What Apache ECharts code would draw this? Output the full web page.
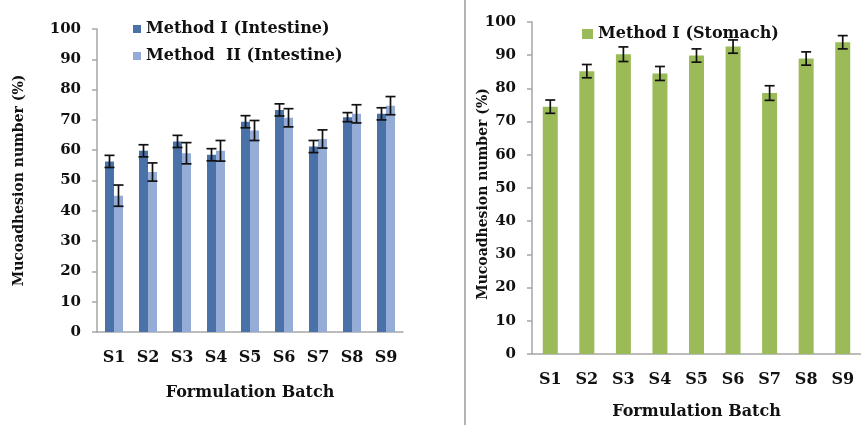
<!DOCTYPE html>
<html>
<head>
<meta charset="utf-8">
<script src="https://cdn.jsdelivr.net/npm/echarts@6/dist/echarts.min.js"></script>
<style>html,body{margin:0;padding:0;background:#fff;}#c{width:861px;height:425px;}</style>
</head>
<body>
<div id="c"></div>
<script>
var categories = ['S1','S2','S3','S4','S5','S6','S7','S8','S9'];
var yTicks = [0,10,20,30,40,50,60,70,80,90,100];
var intestineM1 = [56.3, 59.8, 62.9, 58.5, 69.4, 73.3, 61.2, 70.9, 72.0];
var intestineM1Err = [2, 2, 2, 2, 2, 2, 2, 1.5, 2];
var intestineM2 = [45.0, 52.8, 59.0, 59.8, 66.5, 70.7, 63.7, 72.0, 74.7];
var intestineM2Err = [3.5, 3, 3.5, 3.4, 3.3, 3, 3, 3, 3];
var stomachM1 = [74.5, 85.2, 90.3, 84.5, 89.9, 92.6, 78.6, 89.0, 93.9];
var stomachM1Err = [2, 2, 2.2, 2.1, 2, 2, 2.2, 2, 2];

var FONT = 'DejaVu Serif';
var TXT = '#111';
var AX = '#a6a6a6';

function errData(vals, errs) {
  return vals.map(function (v, i) { return [i, v, errs[i]]; });
}
function errSeries(name, xi, yi, vals, errs, offset) {
  return {
    type: 'custom', name: name, xAxisIndex: xi, yAxisIndex: yi, z: 10,
    silent: true,
    data: errData(vals, errs),
    renderItem: function (params, api) {
      var i = api.value(0), m = api.value(1), e = api.value(2);
      var t = api.coord([i, m + e]);
      var b = api.coord([i, m - e]);
      var x = t[0] + offset, h = 5;
      var st = { stroke: '#111', lineWidth: 1.7 };
      return { type: 'group', children: [
        { type: 'line', shape: { x1: x, y1: t[1], x2: x, y2: b[1] }, style: st },
        { type: 'line', shape: { x1: x - h, y1: t[1], x2: x + h, y2: t[1] }, style: st },
        { type: 'line', shape: { x1: x - h, y1: b[1], x2: x + h, y2: b[1] }, style: st }
      ]};
    }
  };
}
function yAxis(gi, nameGap, pad) {
  return {
    type: 'value', gridIndex: gi, min: 0, max: 100, interval: 10,
    name: 'Mucoadhesion number (%)', nameLocation: 'middle', nameGap: nameGap,
    nameMoveOverlap: false,
    nameTextStyle: { fontFamily: FONT, fontWeight: 'bold', fontSize: 14, color: TXT, padding: pad },
    axisLine: { show: true, lineStyle: { color: AX, width: 1.5 } },
    axisTick: { show: true, length: 5, lineStyle: { color: AX, width: 1.5 } },
    splitLine: { show: false },
    axisLabel: { margin: 16, fontFamily: FONT, fontWeight: 'bold', fontSize: 15, color: TXT,
      formatter: function (v) { return yTicks.indexOf(v) >= 0 ? String(v) : ''; } }
  };
}
function xAxis(gi, nameGap) {
  return {
    type: 'category', gridIndex: gi, data: categories,
    name: 'Formulation Batch', nameLocation: 'middle', nameGap: nameGap,
    nameTextStyle: { fontFamily: FONT, fontWeight: 'bold', fontSize: 16, color: TXT },
    axisLine: { show: true, lineStyle: { color: AX, width: 1.5 } },
    axisTick: { show: false },
    axisLabel: { margin: 18, fontFamily: FONT, fontWeight: 'bold', fontSize: 16, color: TXT }
  };
}

var chart = echarts.init(document.getElementById('c'), null, { renderer: 'canvas' });
chart.setOption({
  animation: false,
  backgroundColor: '#fff',
  grid: [
    { left: 97, top: 29, width: 306, bottom: 93 },
    { left: 532, top: 22, width: 334, bottom: 68 }
  ],
  legend: [
    { left: 128, top: 16, orient: 'vertical', itemGap: 11, itemWidth: 8, itemHeight: 8, icon: 'rect',
      data: ['Method I (Intestine)', 'Method  II (Intestine)'],
      textStyle: { fontFamily: FONT, fontWeight: 'bold', fontSize: 16, color: TXT } },
    { left: 577, top: 21, itemWidth: 11, itemHeight: 10, icon: 'rect',
      data: ['Method I (Stomach)'],
      textStyle: { fontFamily: FONT, fontWeight: 'bold', fontSize: 16, color: TXT } }
  ],
  xAxis: [ xAxis(0, 53), xAxis(1, 50) ],
  yAxis: [ yAxis(0, 71, 0), yAxis(1, 42, [0, 12, 0, 0]) ],
  graphic: [
    { type: 'line', shape: { x1: 465, y1: 0, x2: 465, y2: 425 }, style: { stroke: '#9a9a9a', lineWidth: 1.5 } }
  ],
  series: [
    { type: 'bar', name: 'Method I (Intestine)', xAxisIndex: 0, yAxisIndex: 0, data: intestineM1,
      barWidth: 9, barGap: '0%', itemStyle: { color: '#4a71a8' } },
    { type: 'bar', name: 'Method  II (Intestine)', xAxisIndex: 0, yAxisIndex: 0, data: intestineM2,
      barWidth: 9, barGap: '0%', itemStyle: { color: '#94acd6' } },
    { type: 'bar', name: 'Method I (Stomach)', xAxisIndex: 1, yAxisIndex: 1, data: stomachM1,
      barWidth: 15, itemStyle: { color: '#9bbb59' } },
    errSeries('e1', 0, 0, intestineM1, intestineM1Err, -4.5),
    errSeries('e2', 0, 0, intestineM2, intestineM2Err, 4.5),
    errSeries('e3', 1, 1, stomachM1, stomachM1Err, 0)
  ]
});
</script>
</body>
</html>
